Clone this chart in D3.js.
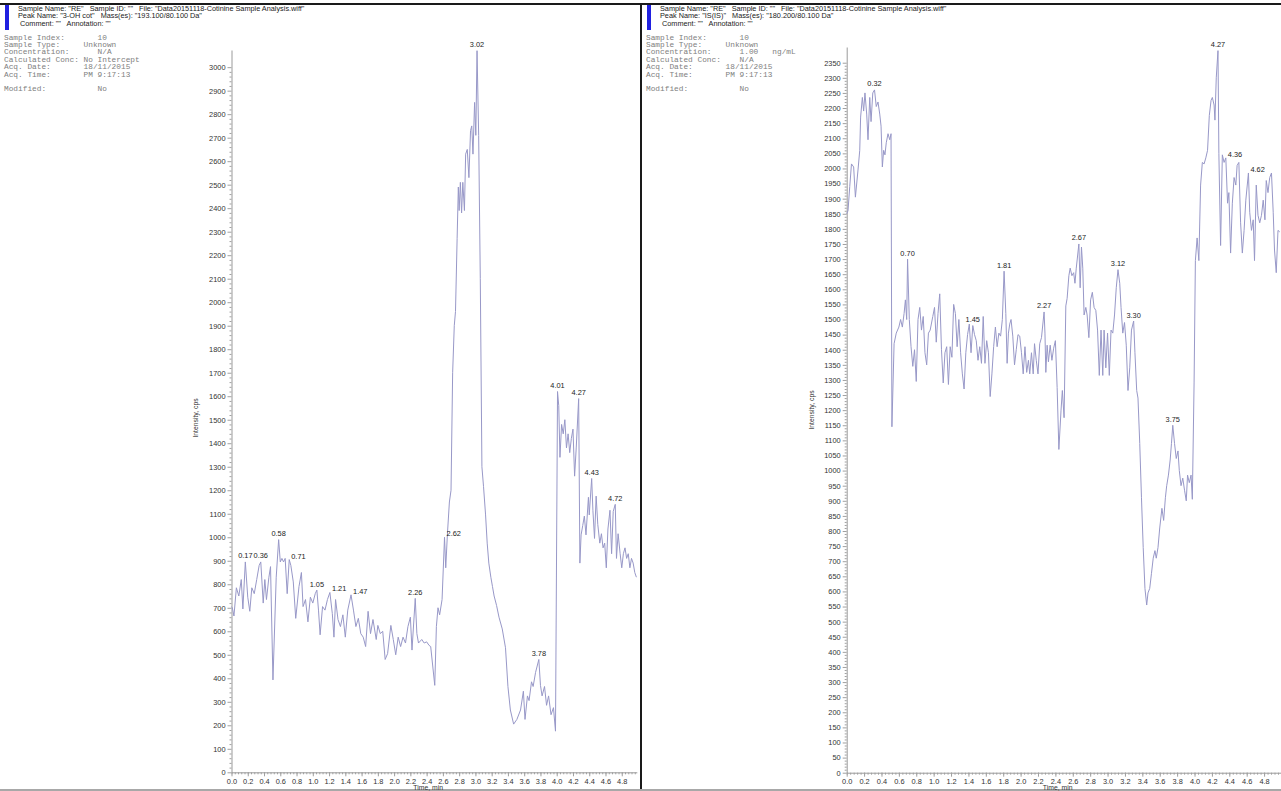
<!DOCTYPE html>
<html>
<head>
<meta charset="utf-8">
<script src="https://cdn.jsdelivr.net/npm/d3@7/dist/d3.min.js"></script>
<style>
  html, body { margin: 0; padding: 0; background: #fff; }
  svg { display: block; }
</style>
</head>
<body>
<svg id="chart" width="1281" height="791"></svg>
<script>
// ---------- XIC trace: 3-OH cotinine (193.100/80.100 Da) ----------
const cotTime = [
  0.00,0.01,0.03,0.06,0.09,0.12,0.14,0.17,0.20,0.225,0.25,0.28,0.31,0.34,0.36,0.39,0.41,0.43,0.46,0.48,
  0.51,0.55,0.58,0.60,0.62,0.64,0.66,0.685,0.71,0.73,0.76,0.79,0.83,0.86,0.88,0.91,0.94,0.97,1.00,1.03,
  1.05,1.07,1.09,1.12,1.15,1.18,1.21,1.24,1.26,1.28,1.31,1.34,1.37,1.40,1.43,1.47,1.50,1.53,1.56,1.59,
  1.62,1.65,1.68,1.71,1.74,1.78,1.80,1.83,1.86,1.89,1.92,1.96,1.99,2.02,2.05,2.08,2.11,2.14,2.17,2.20,
  2.22,2.26,2.28,2.30,2.34,2.37,2.40,2.43,2.45,2.50,2.52,2.54,2.56,2.59,2.62,2.635,2.655,2.68,2.70,2.72,
  2.74,2.755,2.775,2.79,2.80,2.815,2.83,2.845,2.865,2.88,2.90,2.92,2.94,2.955,2.97,2.99,3.005,3.02,3.04,3.06,
  3.08,3.10,3.125,3.145,3.165,3.19,3.21,3.23,3.26,3.29,3.33,3.37,3.40,3.43,3.47,3.51,3.555,3.59,3.61,3.64,
  3.66,3.69,3.71,3.74,3.78,3.80,3.82,3.85,3.875,3.90,3.93,3.96,3.985,4.01,4.025,4.04,4.06,4.08,4.10,4.12,
  4.14,4.16,4.18,4.20,4.22,4.24,4.27,4.285,4.30,4.32,4.34,4.36,4.39,4.40,4.43,4.445,4.465,4.485,4.505,4.53,
  4.55,4.57,4.59,4.61,4.63,4.655,4.675,4.695,4.72,4.735,4.755,4.78,4.80,4.82,4.84,4.86,4.88,4.90,4.92,4.94,
  4.96,4.98
];
const cotIntensity = [
  705,700,665,785,750,820,695,895,745,685,785,760,820,880,895,720,820,735,830,875,
  393,830,990,895,910,895,910,760,905,880,810,655,790,850,705,735,640,745,720,760,
  775,690,585,705,690,735,765,675,575,735,650,620,670,575,690,755,690,620,655,590,
  575,535,685,590,650,565,625,590,600,480,505,625,565,500,575,535,575,550,620,660,
  520,740,590,550,565,550,555,540,535,370,620,700,670,735,1000,870,1010,1150,1200,1700,
  1900,1960,2270,2490,2390,2510,2380,2510,2390,2630,2650,2530,2730,2750,2630,2850,2710,3070,2710,2100,
  1300,1215,1095,975,890,830,790,750,710,660,610,530,365,265,205,225,265,345,225,325,
  305,385,365,425,480,370,325,365,285,325,245,275,175,1620,1560,1340,1480,1440,1500,1380,
  1440,1360,1420,1460,1260,1380,1590,890,1010,1050,1090,1010,1170,1095,1250,1115,995,1175,1055,975,
  1015,955,975,870,1035,1115,930,1110,1140,910,1015,930,870,930,955,910,930,870,910,890,
  850,830
];
const cotPeakTimes = [0.17, 0.36, 0.58, 0.71, 1.05, 1.21, 1.47, 2.26, 2.62, 3.02, 3.78, 4.01, 4.27, 4.43, 4.72];

// ---------- XIC trace: internal standard IS(IS) (180.200/80.100 Da) ----------
const isTime = [
  0.00,0.015,0.035,0.055,0.08,0.10,0.13,0.15,0.16,0.18,0.195,0.21,0.23,0.245,0.265,0.28,0.30,0.32,0.34,0.36,
  0.38,0.395,0.41,0.425,0.44,0.455,0.475,0.495,0.51,0.52,0.545,0.57,0.60,0.62,0.64,0.66,0.675,0.69,0.70,0.72,
  0.74,0.76,0.78,0.80,0.82,0.84,0.86,0.88,0.90,0.92,0.94,0.96,0.99,1.01,1.03,1.05,1.07,1.09,1.11,1.13,
  1.15,1.17,1.19,1.21,1.23,1.25,1.27,1.29,1.31,1.33,1.35,1.37,1.39,1.41,1.43,1.45,1.47,1.49,1.51,1.53,
  1.55,1.57,1.59,1.61,1.63,1.65,1.67,1.69,1.71,1.73,1.75,1.77,1.79,1.81,1.83,1.845,1.86,1.875,1.89,1.91,
  1.93,1.95,1.97,1.99,2.01,2.03,2.05,2.07,2.09,2.105,2.125,2.145,2.16,2.18,2.20,2.22,2.24,2.27,2.28,2.29,
  2.305,2.32,2.34,2.36,2.38,2.40,2.42,2.44,2.465,2.48,2.50,2.52,2.535,2.555,2.57,2.59,2.61,2.625,2.64,2.67,
  2.685,2.70,2.715,2.73,2.75,2.765,2.785,2.805,2.825,2.845,2.865,2.885,2.905,2.925,2.945,2.96,2.98,3.00,3.02,3.04,
  3.06,3.08,3.10,3.12,3.14,3.155,3.175,3.195,3.215,3.235,3.255,3.275,3.30,3.315,3.335,3.35,3.37,3.39,3.41,3.43,
  3.45,3.465,3.485,3.505,3.525,3.545,3.56,3.58,3.60,3.625,3.645,3.665,3.68,3.70,3.72,3.735,3.75,3.77,3.79,3.81,
  3.825,3.845,3.865,3.885,3.905,3.92,3.94,3.96,3.975,3.995,4.01,4.03,4.05,4.07,4.09,4.11,4.13,4.15,4.17,4.19,
  4.205,4.225,4.235,4.25,4.27,4.28,4.30,4.32,4.34,4.36,4.38,4.395,4.415,4.435,4.455,4.475,4.49,4.51,4.53,4.55,
  4.57,4.59,4.62,4.635,4.655,4.675,4.69,4.71,4.73,4.75,4.77,4.79,4.81,4.825,4.845,4.865,4.885,4.905,4.92,4.94,
  4.96,4.98
];
const isIntensity = [
  1850,1860,1940,2015,2005,1905,1995,2060,2170,2235,2190,2250,2180,2095,2235,2155,2250,2260,2205,2220,
  2180,2140,2005,2060,2045,2085,2115,2095,2115,1145,1420,1455,1475,1500,1475,1520,1565,1500,1700,1500,
  1410,1345,1400,1295,1500,1540,1465,1510,1390,1350,1455,1465,1510,1540,1425,1520,1585,1400,1290,1390,
  1410,1285,1410,1375,1550,1520,1410,1500,1390,1320,1270,1390,1450,1485,1390,1480,1450,1430,1365,1410,
  1355,1510,1355,1430,1390,1245,1320,1410,1475,1410,1455,1445,1500,1660,1520,1355,1455,1485,1500,1445,
  1350,1400,1450,1445,1390,1320,1410,1325,1365,1320,1390,1320,1420,1365,1320,1420,1440,1525,1455,1325,
  1415,1360,1415,1365,1405,1430,1275,1070,1200,1265,1175,1545,1570,1645,1670,1645,1655,1620,1670,1750,
  1605,1740,1670,1515,1540,1515,1440,1565,1590,1540,1530,1465,1315,1465,1315,1465,1340,1455,1315,1465,
  1455,1515,1605,1665,1620,1540,1455,1490,1415,1265,1340,1465,1495,1390,1265,1240,1090,910,745,610,
  555,595,610,660,710,735,710,745,810,875,835,910,950,985,1035,1090,1150,1090,1040,1065,
  1000,950,975,935,900,985,960,985,905,1290,1695,1770,1695,1945,2020,2015,2035,2060,2175,2225,
  2235,2210,2160,2300,2390,2050,1745,2045,2020,2035,1885,1920,1720,1885,1970,1945,2010,2020,1820,1720,
  1795,1895,1985,1855,1795,1830,1695,1945,1845,1820,1845,1895,1830,1960,1920,1970,1985,1855,1730,1655,
  1795,1790
];
const isPeakTimes = [0.32, 0.70, 1.45, 1.81, 2.27, 2.67, 3.12, 3.30, 3.75, 4.27, 4.36, 4.62];

// ---------- axis ticks ----------
const timeTicks = [0.0,0.2,0.4,0.6,0.8,1.0,1.2,1.4,1.6,1.8,2.0,2.2,2.4,2.6,2.8,3.0,3.2,3.4,3.6,3.8,4.0,4.2,4.4,4.6,4.8];
const cotIntensityTicks = [0,100,200,300,400,500,600,700,800,900,1000,1100,1200,1300,1400,1500,1600,1700,1800,1900,
  2000,2100,2200,2300,2400,2500,2600,2700,2800,2900,3000];
const isIntensityTicks = [0,50,100,150,200,250,300,350,400,450,500,550,600,650,700,750,800,850,900,950,1000,1050,1100,1150,
  1200,1250,1300,1350,1400,1450,1500,1550,1600,1650,1700,1750,1800,1850,1900,1950,2000,2050,2100,2150,2200,2250,2300,2350];

// ---------- sample header text ----------
const cotHeader = [
  'Sample Name: "RE"   Sample ID: ""   File: "Data20151118-Cotinine Sample Analysis.wiff"',
  'Peak Name: "3-OH cot"   Mass(es): "193.100/80.100 Da"',
  'Comment: ""   Annotation: ""'
];
const isHeader = [
  'Sample Name: "RE"   Sample ID: ""   File: "Data20151118-Cotinine Sample Analysis.wiff"',
  'Peak Name: "IS(IS)"   Mass(es): "180.200/80.100 Da"',
  'Comment: ""   Annotation: ""'
];
const cotInfo = [
  'Sample Index:       10',
  'Sample Type:     Unknown',
  'Concentration:      N/A',
  'Calculated Conc: No Intercept',
  'Acq. Date:       18/11/2015',
  'Acq. Time:       PM 9:17:13',
  '',
  'Modified:           No'
];
const isInfo = [
  'Sample Index:       10',
  'Sample Type:     Unknown',
  'Concentration:      1.00   ng/mL',
  'Calculated Conc:    N/A',
  'Acq. Date:       18/11/2015',
  'Acq. Time:       PM 9:17:13',
  '',
  'Modified:           No'
];

// ---------- drawing ----------
const svg = d3.select("#chart");
const SANS = "'Liberation Sans', Arial, sans-serif";
const MONO = "'Liberation Mono', 'DejaVu Sans Mono', monospace";
const TRACE = "#9898c8";

// frame: top rule, centre divider, bottom rule
svg.append("rect").attr("x", 0).attr("y", 3).attr("width", 1281).attr("height", 2).attr("fill", "#1a1a1a");
svg.append("rect").attr("x", 640).attr("y", 3).attr("width", 2).attr("height", 788).attr("fill", "#1a1a1a");
svg.append("rect").attr("x", 0).attr("y", 789).attr("width", 1281).attr("height", 2).attr("fill", "#a8a8a8");

function drawPanel(cfg) {
  const g = svg.append("g");

  // header block with blue marker
  g.append("rect").attr("x", cfg.ox + 5).attr("y", 5).attr("width", 4).attr("height", 25).attr("fill", "#2020e0");
  cfg.header.forEach((s, i) => {
    g.append("text")
      .attr("x", cfg.ox + (i === 2 ? 20 : 18)).attr("y", 10.5 + i * 7.6)
      .style("white-space", "pre")
      .attr("font-family", SANS).attr("font-size", 7.3).attr("fill", "#222")
      .text(s);
  });
  cfg.info.forEach((s, i) => {
    g.append("text")
      .attr("x", cfg.ox + 4).attr("y", i < 7 ? 39.5 + i * 7.4 : 91)
      .style("white-space", "pre")
      .attr("font-family", MONO).attr("font-size", 7.8).attr("fill", "#808080")
      .text(s);
  });

  const x = d3.scaleLinear().domain(cfg.xDomain).range(cfg.xRange);
  const y = d3.scaleLinear().domain(cfg.yDomain).range(cfg.yRange);

  // y axis: major ticks with labels, minor ticks between
  const yMinor = [];
  for (let i = 0; i < cfg.yTicks.length - 1; i++) {
    const a = cfg.yTicks[i], b = cfg.yTicks[i + 1];
    for (let k = 1; k < 5; k++) yMinor.push(a + (b - a) * k / 5);
  }
  g.append("g").attr("transform", `translate(${cfg.xRange[0]},0)`)
    .call(d3.axisLeft(y).tickValues(cfg.yTicks).tickSize(4).tickSizeOuter(0).tickPadding(2)
      .tickFormat(d3.format("d")));
  g.append("g").attr("transform", `translate(${cfg.xRange[0]},0)`)
    .call(d3.axisLeft(y).tickValues(yMinor).tickSize(2).tickSizeOuter(0).tickFormat(""))
    .select(".domain").remove();

  // x axis
  const xMinor = [];
  for (let v = 0; v <= cfg.xDomain[1] + 1e-9; v += 0.04) xMinor.push(+v.toFixed(2));
  g.append("g").attr("transform", `translate(0,${cfg.yRange[0]})`)
    .call(d3.axisBottom(x).tickValues(timeTicks).tickSize(4).tickSizeOuter(0).tickPadding(2)
      .tickFormat(d3.format(".1f")));
  g.append("g").attr("transform", `translate(0,${cfg.yRange[0]})`)
    .call(d3.axisBottom(x).tickValues(xMinor).tickSize(2).tickSizeOuter(0).tickFormat(""))
    .select(".domain").remove();

  g.selectAll(".domain").attr("stroke", "#9a9a9a");
  g.selectAll(".tick line").attr("stroke", "#a0a0a0");
  g.selectAll(".tick text").attr("font-family", SANS).attr("font-size", 7.4).attr("fill", "#333");

  // axis titles
  g.append("text")
    .attr("transform", `translate(${cfg.yTitleX},${cfg.yTitleY}) rotate(-90)`)
    .attr("text-anchor", "middle")
    .attr("font-family", SANS).attr("font-size", 6.8).attr("fill", "#333")
    .text("Intensity, cps");
  g.append("text")
    .attr("x", (cfg.xRange[0] + cfg.xRange[1]) / 2 - 6).attr("y", 790)
    .attr("text-anchor", "middle")
    .attr("font-family", SANS).attr("font-size", 6.8).attr("fill", "#333")
    .text("Time, min");

  // trace
  const pts = cfg.time.map((t, i) => [t, cfg.values[i]]);
  g.append("path")
    .datum(pts)
    .attr("fill", "none")
    .attr("stroke", TRACE)
    .attr("stroke-width", 1)
    .attr("stroke-linejoin", "round")
    .attr("d", d3.line().x(d => x(d[0])).y(d => y(d[1])));

  // retention-time labels above peak apexes
  cfg.peaks.forEach(t => {
    const p = pts.reduce((best, d) => Math.abs(d[0] - t) < Math.abs(best[0] - t) ? d : best, pts[0]);
    const label = t.toFixed(2);
    const side = cfg.sideLabels.includes(label);
    g.append("text")
      .attr("x", x(p[0]) + (side ? 2 : 0))
      .attr("y", y(p[1]) - (side ? 1 : 3.5))
      .attr("text-anchor", side ? "start" : "middle")
      .attr("font-family", SANS).attr("font-size", 7.4).attr("fill", "#222")
      .text(label);
  });
}

drawPanel({
  ox: 0, header: cotHeader, info: cotInfo,
  time: cotTime, values: cotIntensity, peaks: cotPeakTimes,
  sideLabels: ["0.71", "1.21", "1.47", "2.62"],
  xDomain: [0, 4.985], xRange: [231.5, 636.8],
  yDomain: [0, 3073], yRange: [772.3, 50],
  yTicks: cotIntensityTicks, yTitleX: 198, yTitleY: 418
});

drawPanel({
  ox: 642, header: isHeader, info: isInfo,
  time: isTime, values: isIntensity, peaks: isPeakTimes,
  sideLabels: ["4.36", "4.62"],
  xDomain: [0, 4.99], xRange: [846.7, 1280.6],
  yDomain: [0, 2402], yRange: [772.7, 47],
  yTicks: isIntensityTicks, yTitleX: 814, yTitleY: 410
});
</script>
</body>
</html>
